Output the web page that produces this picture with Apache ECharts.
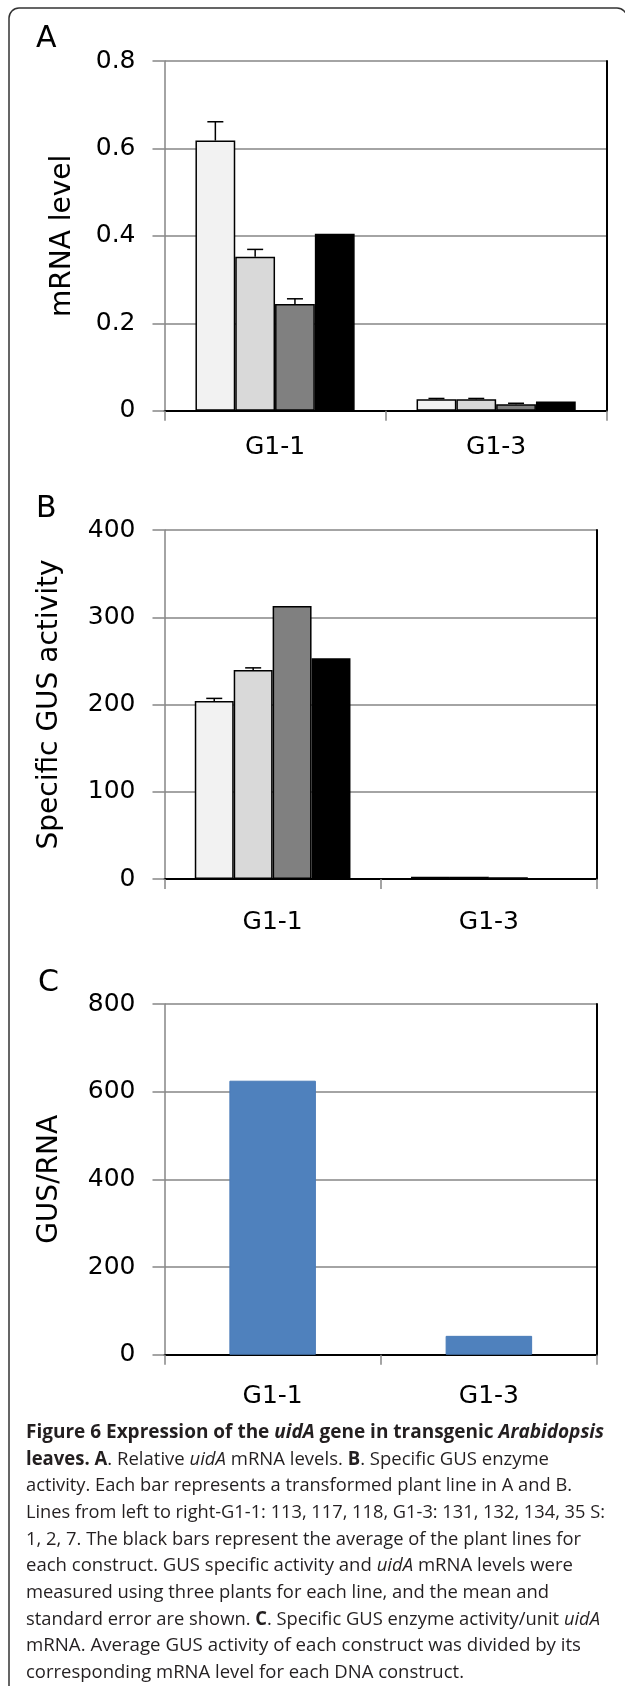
<!DOCTYPE html>
<html><head><meta charset="utf-8">
<script src="https://cdn.jsdelivr.net/npm/echarts@6/dist/echarts.min.js"></script>
<style>
html,body{margin:0;padding:0;background:#fff;width:625px;height:1686px;overflow:hidden;}
#chart{position:absolute;left:0;top:0;width:625px;height:1686px;}
#caption{position:absolute;left:26px;top:1418px;font-family:'Open Sans',sans-serif;font-size:19px;line-height:26.67px;color:#231f20;}
#caption div{white-space:nowrap;height:26.67px;}
#caption span{display:inline-block;transform-origin:0 50%;}
</style></head><body>
<div id="chart"></div>
<div id="caption"></div>
<script>
// ---- data ----
const categories = ['G1-1', 'G1-3'];
// Panel A: relative mRNA level
const mrnaLine1 = [0.618, 0.026];
const mrnaLine2 = [0.352, 0.026];
const mrnaLine3 = [0.244, 0.015];
const mrnaAverage = [0.405, 0.021];
const mrnaErr1 = [0.043, 0.002];
const mrnaErr2 = [0.017, 0.002];
const mrnaErr3 = [0.012, 0.002];
// Panel B: specific GUS activity
const gusLine1 = [204, 2.5];
const gusLine2 = [239.5, 2.5];
const gusLine3 = [313, 2];
const gusAverage = [253, null];
const gusErr1 = [3, 0];
const gusErr2 = [2.5, 0];
const gusErr3 = [0, 0];
// Panel C: GUS / RNA
const gusPerRna = [625, 43];
// axis ticks
const yTicksA = {min: 0, max: 0.8, interval: 0.2};
const yTicksB = {min: 0, max: 400, interval: 100};
const yTicksC = {min: 0, max: 800, interval: 200};

// ---- style ----
const FONT = 'DejaVu Sans';
const GRAY = '#868686';
const GAP = 0.28;
const barFills = ['#F2F2F2', '#D9D9D9', '#808080', '#000000'];

const chart = echarts.init(document.getElementById('chart'), null, {renderer: 'canvas'});

function bottomX(gi, margin) {
  return {type: 'category', gridIndex: gi, data: categories,
    axisLine: {lineStyle: {color: GRAY, width: 1.5}},
    axisTick: {show: true, length: 10, lineStyle: {color: GRAY, width: 1.5}},
    axisLabel: {fontSize: 25, color: '#000', fontFamily: FONT, margin: margin},
    splitLine: {show: false}};
}
function topX(gi) {
  return {type: 'category', gridIndex: gi, data: categories, position: 'top',
    axisLine: {lineStyle: {color: '#000', width: 2}}, axisTick: {show: false},
    axisLabel: {show: false}, splitLine: {show: false}};
}
function leftY(gi, t, name, gap) {
  return {type: 'value', gridIndex: gi, min: t.min, max: t.max, interval: t.interval,
    name: name, nameLocation: 'middle', nameGap: gap,
    nameTextStyle: {fontSize: 28, color: '#000', fontFamily: FONT},
    axisLine: {show: true, lineStyle: {color: GRAY, width: 1.5}},
    axisTick: {show: true, length: 12, lineStyle: {color: GRAY, width: 1.5}},
    axisLabel: {fontSize: 25, color: '#000', fontFamily: FONT, margin: 29},
    splitLine: {show: true, lineStyle: {color: GRAY, width: 1.5}}};
}
function rightY(gi, t) {
  return {type: 'value', gridIndex: gi, min: t.min, max: t.max, interval: t.interval, position: 'right',
    axisLine: {show: true, lineStyle: {color: '#000', width: 2}}, axisTick: {show: false},
    axisLabel: {show: false}, splitLine: {show: false}};
}
function bar(xi, yi, values, fill) {
  return {type: 'bar', xAxisIndex: xi, yAxisIndex: yi, data: values,
    barGap: '0%', barCategoryGap: (GAP * 100) + '%',
    itemStyle: {color: fill, borderColor: '#000', borderWidth: 1.5}, silent: true,
    animation: false};
}
function errSeries(xi, yi, vals, errs) {
  const data = [];
  vals.forEach((arr, b) => arr.forEach((v, c) => {
    if (v != null && errs[b][c] > 0) data.push([c, v, errs[b][c], b]);
  }));
  return {type: 'custom', xAxisIndex: xi, yAxisIndex: yi, z: 5, silent: true, animation: false,
    data: data, encode: {x: 0, y: 1},
    renderItem: function (params, api) {
      const c = api.value(0), v = api.value(1), e = api.value(2), b = api.value(3);
      const p0 = api.coord([c, v]);
      const p1 = api.coord([c, v + e]);
      const band = api.size([1, 0])[0];
      const gw = band * (1 - GAP);
      const bw = gw / 4;
      const x = p0[0] - gw / 2 + bw * (b + 0.5);
      return {type: 'group', children: [
        {type: 'line', shape: {x1: x, y1: p0[1], x2: x, y2: p1[1]}, style: {stroke: '#000', lineWidth: 1.5}},
        {type: 'line', shape: {x1: x - 8, y1: p1[1], x2: x + 8, y2: p1[1]}, style: {stroke: '#000', lineWidth: 1.5}}
      ]};
    }};
}

const option = {
  animation: false,
  backgroundColor: '#fff',
  grid: [
    {left: 164.5, right: 18.3, top: 61, height: 349.7},
    {left: 164.5, right: 28, top: 530, height: 349},
    {left: 164.5, right: 28, top: 1004, height: 350.7}
  ],
  xAxis: [bottomX(0, 24), topX(0), bottomX(1, 31), topX(1), bottomX(2, 29), topX(2)],
  yAxis: [leftY(0, yTicksA, 'mRNA level', 88), rightY(0, yTicksA),
          leftY(1, yTicksB, 'Specific GUS activity', 101), rightY(1, yTicksB),
          leftY(2, yTicksC, 'GUS/RNA', 101), rightY(2, yTicksC)],
  series: [
    bar(0, 0, mrnaLine1, barFills[0]), bar(0, 0, mrnaLine2, barFills[1]),
    bar(0, 0, mrnaLine3, barFills[2]), bar(0, 0, mrnaAverage, barFills[3]),
    errSeries(0, 0, [mrnaLine1, mrnaLine2, mrnaLine3], [mrnaErr1, mrnaErr2, mrnaErr3]),
    bar(2, 2, gusLine1, barFills[0]), bar(2, 2, gusLine2, barFills[1]),
    bar(2, 2, gusLine3, barFills[2]), bar(2, 2, gusAverage, barFills[3]),
    errSeries(2, 2, [gusLine1, gusLine2, gusLine3], [gusErr1, gusErr2, gusErr3]),
    {type: 'bar', xAxisIndex: 4, yAxisIndex: 4, data: gusPerRna, barWidth: '40%', silent: true,
     itemStyle: {color: '#4F81BD', borderColor: '#4A7CB8', borderWidth: 1}}
  ],
  graphic: [
    {type: 'rect', silent: true, z: 0, shape: {x: 9, y: 8, width: 618, height: 1700, r: [10, 10, 0, 0]},
     style: {fill: 'none', stroke: '#333', lineWidth: 1.5}},
    {type: 'text', silent: true, x: 36, y: 39, style: {text: 'A', fontSize: 30, fontFamily: FONT, fill: '#000', verticalAlign: 'middle'}},
    {type: 'text', silent: true, x: 36, y: 509, style: {text: 'B', fontSize: 30, fontFamily: FONT, fill: '#000', verticalAlign: 'middle'}},
    {type: 'text', silent: true, x: 38, y: 983, style: {text: 'C', fontSize: 30, fontFamily: FONT, fill: '#000', verticalAlign: 'middle'}}
  ]
};
chart.setOption(option);

// ---- caption ----
const captionLines = [
  '<b>Figure 6 Expression of the <i>uidA</i> gene in transgenic <i>Arabidopsis</i></b>',
  '<b>leaves. A</b>. Relative <i>uidA</i> mRNA levels. <b>B</b>. Specific GUS enzyme',
  'activity. Each bar represents a transformed plant line in A and B.',
  'Lines from left to right-G1-1: 113, 117, 118, G1-3: 131, 132, 134, 35 S:',
  '1, 2, 7. The black bars represent the average of the plant lines for',
  'each construct. GUS specific activity and <i>uidA</i> mRNA levels were',
  'measured using three plants for each line, and the mean and',
  'standard error are shown. <b>C</b>. Specific GUS enzyme activity/unit <i>uidA</i>',
  'mRNA. Average GUS activity of each construct was divided by its',
  'corresponding mRNA level for each DNA construct.'
];
const captionLineWidths = [578, 523, 546, 579, 555, 547, 523, 574, 555, 438];
const cap = document.getElementById('caption');
captionLines.forEach((html, i) => {
  const d = document.createElement('div');
  const s = document.createElement('span');
  s.innerHTML = html;
  d.appendChild(s);
  cap.appendChild(d);
  const w = s.getBoundingClientRect().width;
  s.style.transform = 'scaleX(' + (captionLineWidths[i] / w) + ')';
});
</script>
</body></html>
